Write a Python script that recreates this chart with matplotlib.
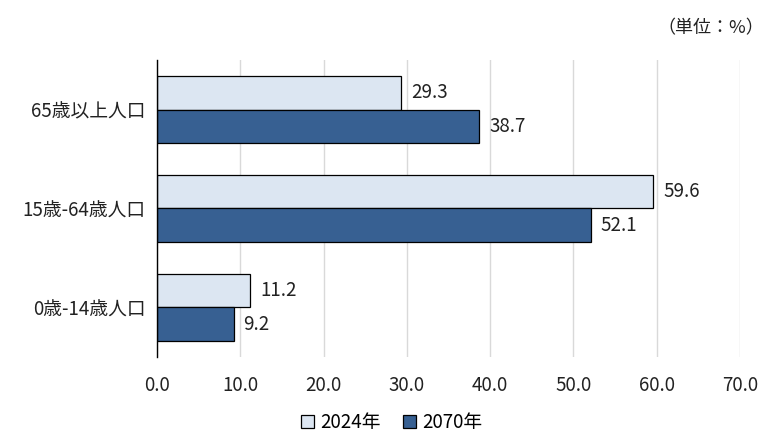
import matplotlib
matplotlib.use("Agg")
import matplotlib.pyplot as plt
import numpy as np

plt.rcParams['font.family'] = ['Noto Sans CJK JP', 'DejaVu Sans']

# data
categories = ["65歳以上人口", "15歳-64歳人口", "0歳-14歳人口"]
series_names = ["2024年", "2070年"]
values_2024 = [29.3, 59.6, 11.2]
values_2070 = [38.7, 52.1, 9.2]
colors = ["#dce6f2", "#376092"]

fig = plt.figure(figsize=(7.68, 4.38), dpi=100)
ax = fig.add_axes([0.2044, 0.185, 0.759, 0.678])

n = len(categories)
y = np.arange(n)[::-1].astype(float)
h = 0.34

b1 = ax.barh(y + h / 2, values_2024, height=h, color=colors[0], edgecolor="black",
             linewidth=0.9, label=series_names[0], zorder=3)
b2 = ax.barh(y - h / 2, values_2070, height=h, color=colors[1], edgecolor="black",
             linewidth=0.9, label=series_names[1], zorder=3)

fs = 13.5
for bars, vals in ((b1, values_2024), (b2, values_2070)):
    for bar, v in zip(bars, vals):
        ax.text(v + 1.2, bar.get_y() + bar.get_height() / 2, f"{v:.1f}",
                va="center", ha="left", fontsize=fs, color="#222222")

ax.set_xlim(0, 70)
ax.set_ylim(-0.5, n - 0.5)
ax.set_xticks(np.arange(0, 71, 10))
ax.set_xticklabels([f"{t:.1f}" for t in np.arange(0, 71, 10)], fontsize=fs, color="#222222")
ax.set_yticks(y)
ax.set_yticklabels(categories, fontsize=fs, color="#222222")
ax.tick_params(axis="both", length=0, pad=8)
ax.tick_params(axis="x", pad=13)

ax.grid(axis="x", color="#d9d9d9", linewidth=1, zorder=0)
for s in ["top", "right", "bottom"]:
    ax.spines[s].set_visible(False)
ax.spines["left"].set_color("black")
ax.spines["left"].set_linewidth(1)
ax.spines["left"].set_zorder(4)

fig.text(0.995, 0.935, "（単位：%）", ha="right", va="center", fontsize=13, color="#222222")

fig.legend(handles=[b1, b2], labels=series_names, loc="center", bbox_to_anchor=(0.51, 0.035),
           ncol=2, frameon=False, fontsize=fs, handlelength=0.7, handleheight=0.7,
           handletextpad=0.3, columnspacing=1.2)

fig.savefig("out.png", dpi=100)
